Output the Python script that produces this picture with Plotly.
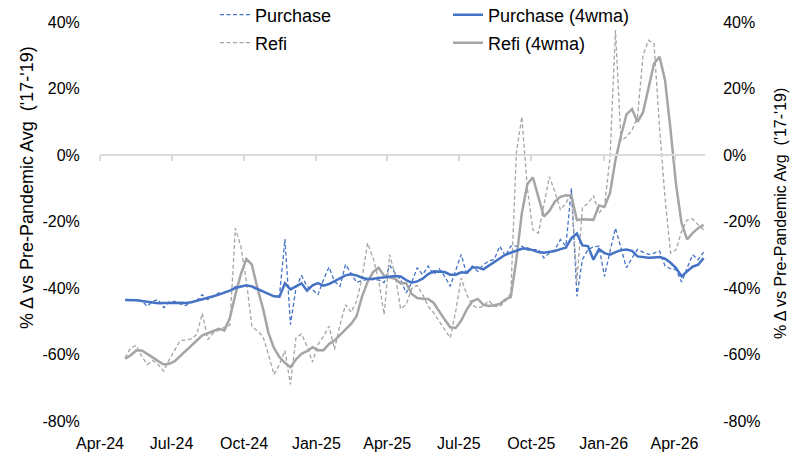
import pandas as pd
import plotly.graph_objects as go

# ---- data (weekly, % change vs pre-pandemic avg) ----
start_week = "2024-05-03"
n_weeks = 106
dates = pd.date_range(start_week, periods=n_weeks, freq="7D")

purchase = [
    -43.5, -43.5, -43.6, -43.8, -45.5, -44.0, -43.5, -45.9, -44.2, -44.0,
    -44.8, -45.3, -44.2, -43.8, -42.0, -43.5, -42.5, -41.5, -41.3, -40.8,
    -39.6, -39.4, -39.3, -39.8, -40.5, -41.0, -41.8, -42.5, -42.3, -25.3,
    -51.0, -40.0, -36.2, -39.5, -40.5, -42.0, -37.5, -33.7, -38.0, -39.5,
    -32.9, -35.5, -38.3, -37.8, -37.4, -37.5, -37.6, -38.4, -33.2, -35.5,
    -37.4, -41.5, -38.4, -33.9, -36.0, -33.4, -36.0, -34.2, -36.5, -39.5,
    -34.5, -29.9, -36.0, -33.4, -35.0, -33.0, -31.9, -31.4, -27.4, -30.4,
    -27.4, -27.4, -27.4, -28.6, -28.6, -28.4, -31.0, -29.5, -28.5, -25.4,
    -27.4, -10.0, -42.5, -31.4, -28.5, -27.6, -27.4, -36.5, -29.0, -22.0,
    -28.0, -33.9, -31.0, -28.4, -29.2, -29.9, -29.5, -28.9, -33.4, -34.2,
    -34.5, -38.2, -34.0, -30.0, -31.5, -29.2,
]
purchase_4wma = [
    -43.6, -43.6, -43.7, -43.9, -44.2, -44.5, -44.6, -44.5, -44.6, -44.5,
    -44.4, -44.5, -44.3, -43.9, -43.4, -43.0, -42.5, -42.0, -41.5, -40.8,
    -40.0, -39.5, -39.2, -39.5, -40.2, -41.0, -41.8, -42.5, -42.6, -38.6,
    -40.4, -39.5, -38.6, -40.8, -39.2, -38.5, -39.3, -38.8, -38.0, -37.0,
    -36.2, -35.9, -36.2, -36.9, -37.3, -37.2, -37.0, -36.8, -36.6, -36.4,
    -36.5, -37.6, -38.4, -38.0, -37.2, -35.8, -35.0, -35.0, -35.2, -36.0,
    -36.0, -35.3, -35.4, -33.8, -33.8, -34.4, -33.3, -32.4, -31.2, -30.0,
    -29.4, -28.9, -28.2, -28.1, -28.6, -29.2, -29.4, -29.2, -28.9, -28.3,
    -27.9, -25.0, -23.6, -27.2, -27.4, -31.5, -28.3, -29.5, -30.0, -29.2,
    -28.6, -28.4, -28.8, -30.5, -30.8, -30.9, -30.8, -30.7, -31.2, -32.4,
    -34.0, -36.5, -35.0, -33.6, -33.0, -31.0,
]
refi = [
    -61.0, -58.0, -57.3, -60.5, -63.0, -61.8, -63.0, -65.0, -61.5, -58.8,
    -55.8, -55.7, -55.3, -54.0, -47.6, -55.5, -53.5, -52.7, -51.8, -51.2,
    -22.0, -27.5, -38.0, -51.5, -53.0, -54.5, -60.0, -66.0, -63.0, -58.8,
    -69.0, -55.0, -53.8, -57.5, -62.3, -57.0, -54.5, -51.5, -58.5, -51.0,
    -45.0, -47.3, -44.0, -37.0, -26.5, -31.0, -37.5, -48.0, -30.0, -36.0,
    -46.3, -45.0, -40.2, -39.2, -42.0, -45.5, -47.5, -50.0, -52.5, -55.0,
    -47.0, -37.0, -42.0, -45.2, -46.0, -45.5, -43.8, -45.5, -45.5, -44.0,
    -41.5, 0.5, 11.5, -10.0, -22.5, -23.5, -15.0, -6.5, -11.0, -16.5,
    -14.5, -11.5, -38.0, -15.8, -14.6, -12.2, -17.5, -15.4, -1.0, 37.5,
    4.2, 5.5, 7.5, 11.5, 30.0, 34.5, 33.5, 8.0, -13.0, -29.5,
    -28.5, -23.0, -19.5, -19.2, -21.0, -22.5,
]
refi_4wma = [
    -61.3, -60.2, -58.8, -58.8, -59.8, -61.0, -62.0, -63.0, -62.8, -62.0,
    -60.5, -58.7, -57.3, -55.8, -54.2, -53.6, -53.0, -52.3, -52.8, -49.0,
    -42.0, -35.8, -31.3, -33.0, -40.0, -46.0, -53.5, -58.0, -60.8, -62.5,
    -63.8, -61.5, -59.8, -59.0, -57.8, -58.7, -58.7, -56.8, -55.8, -54.2,
    -52.5, -50.8, -48.5, -42.5, -38.2, -35.2, -33.9, -36.3, -36.8, -37.2,
    -38.6, -38.5, -41.8, -43.0, -43.2, -43.3, -44.5, -47.2, -49.5, -51.8,
    -52.0, -49.8, -46.5, -44.0, -43.3, -45.0, -45.4, -45.2, -44.8, -43.5,
    -42.7, -31.5, -17.5, -8.8, -6.7, -12.6, -18.5, -16.8, -14.0, -12.6,
    -12.1, -12.2, -19.6, -19.3, -19.3, -19.5, -15.2, -15.6, -11.5, -1.5,
    5.8, 12.2, 13.8, 10.0, 12.8, 20.0, 27.5, 29.5, 22.5, 7.5,
    -9.0, -20.5, -25.4, -23.5, -22.0, -21.0,
]

x_tick_dates = ["2024-04-01", "2024-07-01", "2024-10-01", "2025-01-01", "2025-04-01",
                "2025-07-01", "2025-10-01", "2026-01-01", "2026-04-01"]
x_tick_labels = ["Apr-24", "Jul-24", "Oct-24", "Jan-25", "Apr-25",
                 "Jul-25", "Oct-25", "Jan-26", "Apr-26"]
y_tick_vals = [-80, -60, -40, -20, 0, 20, 40]
y_tick_labels = ["-80%", "-60%", "-40%", "-20%", "0%", "20%", "40%"]
y_title = "% \u0394 vs Pre-Pandemic Avg  ('17-'19)"

# ---- style ----
BLUE = "#4472C4"
GRAY = "#A5A5A5"
FONT = "Arial, Liberation Sans, sans-serif"
X_RANGE = ["2024-04-01", "2026-05-09 18:00"]
Y_RANGE = [-80, 40]
CLEAR = "rgba(0,0,0,0)"

fig = go.Figure()
fig.add_trace(go.Scatter(x=dates, y=purchase, name="Purchase", mode="lines",
                         line=dict(color=BLUE, width=1.3, dash="4px,2.5px"), legend="legend"))
fig.add_trace(go.Scatter(x=dates, y=refi, name="Refi", mode="lines",
                         line=dict(color=GRAY, width=1.3, dash="4px,2.5px"), legend="legend2"))
fig.add_trace(go.Scatter(x=dates, y=refi_4wma, name="Refi (4wma)", mode="lines",
                         line=dict(color=GRAY, width=2.5), legend="legend4"))
fig.add_trace(go.Scatter(x=dates, y=purchase_4wma, name="Purchase (4wma)", mode="lines",
                         line=dict(color=BLUE, width=2.5), legend="legend3"))
# helper trace carrying the zero-line axis and the right-hand axis
fig.add_trace(go.Scatter(x=dates, y=purchase_4wma, xaxis="x2", yaxis="y2", mode="lines",
                         line=dict(width=0, color=CLEAR), showlegend=False,
                         hoverinfo="skip"))

W, H = 799, 455
plot_l, plot_t = 100, 22
plot_r = W - 705
plot_b = H - 421
pw = W - plot_l - plot_r
ph = H - plot_t - plot_b

def px_x(px):  # page px -> paper x
    return (px - plot_l) / pw

def px_y(py):  # page px -> paper y
    return (H - plot_b - py) / ph

leg_common = dict(xanchor="left", yanchor="middle", bgcolor=CLEAR,
                  font=dict(family=FONT, size=18, color="#000"), borderwidth=0)
fig.update_layout(
    width=W, height=H,
    margin=dict(l=plot_l, r=plot_r, t=plot_t, b=plot_b, autoexpand=False),
    paper_bgcolor="white", plot_bgcolor="white",
    font=dict(family=FONT, size=16, color="#000"),
    legend=dict(x=px_x(215), y=px_y(15), **leg_common),
    legend2=dict(x=px_x(215), y=px_y(43), **leg_common),
    legend3=dict(x=px_x(448), y=px_y(15), **leg_common),
    legend4=dict(x=px_x(448), y=px_y(43), **leg_common),
    xaxis=dict(range=X_RANGE, type="date", tickvals=x_tick_dates, ticktext=x_tick_labels,
               showgrid=False, zeroline=False, showline=False,
               ticks="outside", ticklen=8, tickcolor=CLEAR,
               tickfont=dict(size=16)),
    xaxis2=dict(range=X_RANGE, type="date", overlaying="x", anchor="free",
                position=80 / 120, tickvals=x_tick_dates, showticklabels=False,
                showgrid=False, zeroline=False, showline=True, linecolor="#D9D9D9",
                linewidth=1.5, ticks="outside", ticklen=5, tickwidth=1.5,
                tickcolor="#D9D9D9"),
    yaxis=dict(range=Y_RANGE, tickvals=y_tick_vals, ticktext=y_tick_labels,
               showgrid=False, zeroline=False, showline=False,
               ticks="outside", ticklen=16, tickcolor=CLEAR,
               tickfont=dict(size=16)),
    yaxis2=dict(range=Y_RANGE, tickvals=y_tick_vals, ticktext=y_tick_labels,
                overlaying="y", side="right", anchor="x",
                showgrid=False, zeroline=False, showline=False,
                ticks="outside", ticklen=14, tickcolor=CLEAR,
                tickfont=dict(size=16)),
    annotations=[
        dict(text=y_title, textangle=-90, xref="paper", yref="paper",
             x=px_x(27), y=px_y(188), showarrow=False,
             font=dict(family=FONT, size=18, color="#000"),
             xanchor="center", yanchor="middle"),
        dict(text=y_title, textangle=-90, xref="paper", yref="paper",
             x=px_x(780), y=px_y(214), showarrow=False,
             font=dict(family=FONT, size=16, color="#000"),
             xanchor="center", yanchor="middle"),
    ],
    showlegend=True,
)

fig.write_html("out.html", config={"displayModeBar": False},
               post_script="document.body.style.margin='0';")
